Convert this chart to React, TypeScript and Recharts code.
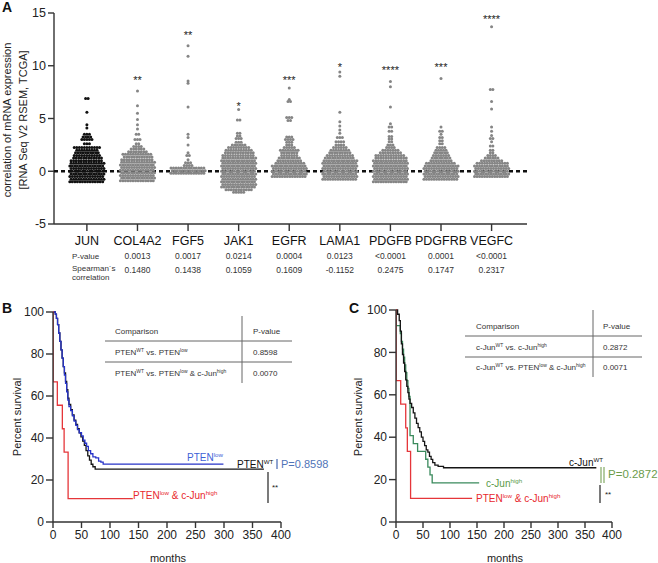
import React from "react";
import { ScatterChart, Scatter, XAxis, YAxis, LineChart, Line } from "recharts";

const FONT = "'Liberation Sans', Arial, sans-serif";

// ---- panel A: genes, stats, dot rows ----
const GENES = ["JUN", "COL4A2", "FGF5", "JAK1", "EGFR", "LAMA1", "PDGFB", "PDGFRB", "VEGFC"];
const P_VALUES = ["", "0.0013", "0.0017", "0.0214", "0.0004", "0.0123", "<0.0001", "0.0001", "<0.0001"];
const SPEARMAN = ["", "0.1480", "0.1438", "0.1059", "0.1609", "-0.1152", "0.2475", "0.1747", "0.2317"];
const STARS = ["", "**", "**", "*", "***", "*", "****", "***", "****"];
const STAR_Y = [0, 8.8, 13.1, 6.4, 8.8, 10.1, 9.8, 10.1, 14.6];
const ZERO_LINE = [{ x: -0.65, y: 0 }, { x: 8.7, y: 0 }];

// dense body: number of dots per 0.25-wide row, starting at BODY_FROM
const BODY_FROM = [-1.0, -0.9, -0.2, -2.0, -0.5, -0.75, -1.0, -0.75, -0.5];
const BODY_COUNTS = [
  [14, 14, 14, 14, 14, 14, 14, 14, 13, 12, 11, 10, 9, 11],
  [14, 14, 14, 14, 14, 14, 14, 14, 13, 12, 12, 8, 6, 4, 2],
  [14, 14, 14],
  [5, 11, 14, 14, 14, 14, 14, 14, 14, 14, 14, 14, 14, 14, 13, 12, 11, 9, 6, 3],
  [14, 14, 14, 14, 14, 12, 10, 9, 7, 7, 8, 5, 3, 3],
  [14, 14, 14, 14, 14, 14, 14, 14, 12, 11, 9, 8, 6, 4],
  [14, 14, 14, 14, 14, 14, 14, 14, 14, 13, 12, 9, 7, 4, 3],
  [14, 14, 14, 14, 14, 14, 12, 9, 8, 7, 6, 5, 4],
  [14, 14, 14, 14, 14, 13, 9, 6, 4],
];
// sparse upper tail: [value, dots in row]
const TAILS: [number, number][][] = [
  [[2.6, 3], [3.0, 5], [3.25, 4], [3.5, 3], [4.1, 1], [4.4, 1], [5.6, 1], [6.9, 2]],
  [[3.0, 3], [3.5, 2], [4.0, 1], [4.4, 1], [4.9, 1], [5.5, 1], [6.2, 1], [7.6, 1]],
  [[0.55, 4], [0.8, 3], [1.1, 1], [1.5, 2], [1.75, 1], [2.5, 1], [3.2, 1], [3.5, 1], [6.1, 1], [8.35, 1], [8.55, 1], [10.9, 1], [11.9, 1]],
  [[3.1, 3], [3.35, 2], [3.6, 2], [4.85, 2], [5.85, 1]],
  [[3.0, 4], [3.25, 3], [4.8, 2], [5.1, 3], [6.6, 2], [6.8, 1], [7.9, 1]],
  [[2.8, 4], [3.2, 3], [3.6, 1], [3.9, 1], [4.3, 1], [4.7, 1], [5.6, 1], [9.0, 1], [9.4, 1]],
  [[2.8, 2], [3.05, 2], [3.3, 2], [3.8, 2], [4.2, 2], [4.5, 1], [6.1, 1], [8.0, 1], [8.5, 1]],
  [[2.6, 2], [2.9, 2], [3.2, 2], [3.5, 1], [3.8, 2], [4.2, 1], [8.8, 1]],
  [[1.75, 2], [2.0, 2], [2.4, 2], [2.8, 1], [3.1, 2], [3.4, 1], [3.8, 1], [4.2, 1], [5.9, 1], [6.6, 1], [7.75, 2], [13.7, 1]],
];

// ---- panel B / C survival curves: months and percent survival ----
const B_WT_T = [0, 4, 6, 8, 10, 12, 14, 16, 18, 20, 22, 24, 26, 28, 31, 34, 37, 40, 43, 46, 49, 52, 55, 58, 61, 64, 67, 70, 74, 370];
const B_WT_S = [100, 99, 97, 94, 90, 86, 82, 78, 74, 71, 67, 63, 59, 56, 53.5, 51, 48.5, 46.5, 44.5, 42.5, 40.5, 38.5, 36.5, 34, 31.5, 29.5, 27.5, 26.3, 25.2, 25.2];
const B_LOW_T = [0, 4, 6, 8, 10, 12, 14, 16, 18, 20, 22, 24, 26, 28, 31, 34, 37, 40, 43, 46, 50, 53, 56, 59, 62, 66, 70, 75, 80, 84, 88, 299];
const B_LOW_S = [100, 99, 97, 94, 90, 86, 82, 78, 74, 70, 66, 62, 58, 55, 53, 50.5, 48, 46, 44, 42.5, 41, 39, 37.5, 36, 34, 32.5, 31, 30.5, 29, 28.5, 27.6, 27.6];
const B_JUN_T = [0, 0.3, 7.6, 16.4, 19.5, 26.5, 140];
const B_JUN_S = [100, 66.7, 55.6, 44.4, 33.3, 11.1, 11.1];

const C_WT_T = [0, 3, 6, 8, 10, 12, 14, 16, 18, 20, 22, 24, 26, 29, 32, 35, 38, 41, 44, 47, 50, 53, 56, 59, 62, 65, 68, 72, 78, 88, 371];
const C_WT_S = [100, 98, 95, 90, 84, 79, 75, 71, 67, 64, 61, 58, 56, 54, 51.5, 49, 46.5, 44.5, 42.5, 40, 38, 36, 34, 33, 31, 29.5, 28, 26.8, 26.2, 25.6, 25.6];
const C_HIGH_T = [0, 0.5, 8, 10, 12, 14, 16, 18, 20, 22, 24, 26, 32, 40, 55, 59, 63, 67, 154];
const C_HIGH_S = [100, 92.6, 88.9, 85.2, 81.5, 77.8, 74.1, 70.4, 66.7, 63, 59.3, 40.7, 37, 33.3, 29.6, 25.9, 22.2, 18.5, 18.5];
const C_JUN_T = [0, 0.3, 8.7, 18, 21, 27, 141];
const C_JUN_S = [100, 66.7, 55.6, 44.4, 33.3, 11.1, 11.1];

const MONTH_TICKS = [0, 50, 100, 150, 200, 250, 300, 350, 400];
const MINOR_TICKS = [25, 75, 125, 175, 225, 275, 325, 375];
const PCT_TICKS = [0, 20, 40, 60, 80, 100];

const DX = 0.05; // horizontal spacing of dots in category units

function dotsFor(i: number) {
  const rows: [number, number][] = BODY_COUNTS[i].map((n, k) => [BODY_FROM[i] + k * 0.25, n] as [number, number]);
  const all = rows.concat(TAILS[i]);
  const pts: { x: number; y: number }[] = [];
  all.forEach(([v, n], r) => {
    const shift = n >= 12 ? (r % 2) * (DX / 2) - DX / 4 : 0;
    for (let j = 0; j < n; j++) pts.push({ x: i + (j - (n - 1) / 2) * DX + shift, y: v });
  });
  return pts;
}

const curve = (t: number[], s: number[]) => t.map((m, k) => ({ t: m, s: s[k] }));

const GeneTick = ({ x, y, payload }: any) => {
  const i = payload.value;
  return (
    <g fontFamily={FONT}>
      <text x={x} y={y + 12} textAnchor="middle" fontSize={12.5} fill="#111">{GENES[i]}</text>
      <text x={x} y={y + 26} textAnchor="middle" fontSize={8.5} fill="#333">{P_VALUES[i]}</text>
      <text x={x} y={y + 40} textAnchor="middle" fontSize={8.5} fill="#333">{SPEARMAN[i]}</text>
    </g>
  );
};

const StarShape = (label: string) => (p: any) => (
  <text x={p.cx} y={p.cy + 6} textAnchor="middle" fontSize={11} fill="#222" stroke="none" fontFamily={FONT}>{label}</text>
);

// text with superscripts: parts = [text, isSup]
function Rich({ x, y, parts, size, fill }: { x: number; y: number; parts: [string, boolean?][]; size: number; fill: string }) {
  let sup = false;
  return (
    <text x={x} y={y} fontSize={size} fill={fill} style={{ whiteSpace: "pre" }}>
      {parts.map(([t, s], k) => {
        const dy = s && !sup ? -size * 0.4 : !s && sup ? size * 0.4 : 0;
        sup = !!s;
        return (
          <tspan key={k} dy={dy} fontSize={s ? size * 0.62 : size}>{t}</tspan>
        );
      })}
    </text>
  );
}

const axisStyle = { stroke: "#333", strokeWidth: 1.4 };

export default function App() {
  return (
    <div style={{ position: "absolute", left: 0, top: 0, width: 658, height: 563, background: "#fff", fontFamily: FONT }}>
      {/* Panel A */}
      <div style={{ position: "absolute", left: 0, top: 0 }}>
        <ScatterChart width={658} height={290} margin={{ top: 13, right: 131, bottom: 36, left: 14 }}>
          <XAxis
            type="number"
            dataKey="x"
            domain={[-0.65, 8.7]}
            ticks={[0, 1, 2, 3, 4, 5, 6, 7, 8]}
            tick={<GeneTick />}
            tickSize={7}
            height={30}
            allowDataOverflow
            axisLine={axisStyle}
            tickLine={axisStyle}
          />
          <YAxis
            type="number"
            dataKey="y"
            domain={[-5, 15]}
            ticks={[-5, 0, 5, 10, 15]}
            width={40}
            tickSize={6}
            allowDataOverflow
            tick={{ fontSize: 12.5, fill: "#222", fontFamily: FONT }}
            axisLine={axisStyle}
            tickLine={axisStyle}
          />
          {/* dashed zero line drawn first so the dot clouds cover it */}
          <Scatter
            data={ZERO_LINE}
            isAnimationActive={false}
            line={{ stroke: "#111", strokeWidth: 2.4, strokeDasharray: "4 3" }}
            shape={() => <g />}
          />
          {GENES.map((g, i) => (
            <Scatter
              key={g}
              data={dotsFor(i)}
              isAnimationActive={false}
              shape={(p: any) => <circle cx={p.cx} cy={p.cy} r={1.5} fill={i === 0 ? "#111" : "#858585"} />}
            />
          ))}
          {STARS.map((s, i) =>
            s ? (
              <Scatter key={"s" + i} data={[{ x: i, y: STAR_Y[i] }]} fill="#222" isAnimationActive={false} shape={StarShape(s)} />
            ) : null
          )}
        </ScatterChart>
      </div>

      {/* Panel B */}
      <div style={{ position: "absolute", left: 0, top: 290 }}>
        <LineChart width={330} height={273} margin={{ top: 22, right: 49, bottom: 11, left: 13 }}>
          <XAxis type="number" dataKey="t" domain={[0, 400]} ticks={MONTH_TICKS} tickSize={6} height={30}
            tick={{ fontSize: 12, fill: "#222", fontFamily: FONT }} axisLine={axisStyle} tickLine={axisStyle} allowDataOverflow />
          <YAxis type="number" domain={[0, 100]} ticks={PCT_TICKS} width={40} tickSize={7}
            tick={{ fontSize: 12, fill: "#222", fontFamily: FONT }} axisLine={axisStyle} tickLine={axisStyle} />
          <Line data={curve(B_WT_T, B_WT_S)} dataKey="s" type="stepAfter" stroke="#151515" strokeWidth={1.3} dot={false} isAnimationActive={false} />
          <Line data={curve(B_LOW_T, B_LOW_S)} dataKey="s" type="stepAfter" stroke="#2733c8" strokeWidth={1.3} dot={false} isAnimationActive={false} />
          <Line data={curve(B_JUN_T, B_JUN_S)} dataKey="s" type="stepAfter" stroke="#e5363a" strokeWidth={1.3} dot={false} isAnimationActive={false} />
        </LineChart>
      </div>

      {/* Panel C */}
      <div style={{ position: "absolute", left: 330, top: 290 }}>
        <LineChart width={328} height={273} margin={{ top: 20, right: 46, bottom: 11, left: 26 }}>
          <XAxis type="number" dataKey="t" domain={[0, 400]} ticks={MONTH_TICKS} tickSize={6} height={30}
            tick={{ fontSize: 12, fill: "#222", fontFamily: FONT }} axisLine={axisStyle} tickLine={axisStyle} allowDataOverflow />
          <XAxis xAxisId="minor" type="number" dataKey="t" domain={[0, 400]} ticks={MINOR_TICKS} tickSize={3} height={0}
            tick={false} axisLine={false} tickLine={axisStyle} allowDataOverflow />
          <YAxis type="number" domain={[0, 100]} ticks={PCT_TICKS} width={40} tickSize={7}
            tick={{ fontSize: 12, fill: "#222", fontFamily: FONT }} axisLine={axisStyle} tickLine={axisStyle} />
          <Line data={curve(C_HIGH_T, C_HIGH_S)} dataKey="s" type="stepAfter" stroke="#3a8a5c" strokeWidth={1.3} dot={false} isAnimationActive={false} />
          <Line data={curve(C_WT_T, C_WT_S)} dataKey="s" type="stepAfter" stroke="#151515" strokeWidth={1.3} dot={false} isAnimationActive={false} />
          <Line data={curve(C_JUN_T, C_JUN_S)} dataKey="s" type="stepAfter" stroke="#e5363a" strokeWidth={1.3} dot={false} isAnimationActive={false} />
        </LineChart>
      </div>

      {/* annotations */}
      <svg width={658} height={563} style={{ position: "absolute", left: 0, top: 0, pointerEvents: "none" }} fontFamily={FONT}>
        <text x={2} y={12} fontSize={14} fontWeight="bold" fill="#111">A</text>
        <text x={2} y={313} fontSize={14} fontWeight="bold" fill="#111">B</text>
        <text x={349} y={313} fontSize={14} fontWeight="bold" fill="#111">C</text>

        <text x={11} y={120} fontSize={11} fill="#222" textAnchor="middle" transform="rotate(-90 11 120)">correlation of mRNA expression</text>
        <text x={27} y={120} fontSize={11} fill="#222" textAnchor="middle" transform="rotate(-90 27 120)">[RNA Seq V2 RSEM, TCGA]</text>
        <text x={72} y={259} fontSize={8} fill="#333">P-value</text>
        <text x={72} y={271} fontSize={8} fill="#333">Spearman´s</text>
        <text x={72} y={280} fontSize={8} fill="#333">correlation</text>

        {/* B axes labels */}
        <text x={21} y={417} fontSize={11} fill="#222" textAnchor="middle" transform="rotate(-90 21 417)">Percent survival</text>
        <text x={168} y={562} fontSize={11} fill="#222" textAnchor="middle">months</text>
        {/* C axes labels */}
        <text x={362} y={417} fontSize={11} fill="#222" textAnchor="middle" transform="rotate(-90 362 417)">Percent survival</text>
        <text x={505} y={562} fontSize={11} fill="#222" textAnchor="middle">months</text>

        {/* B table */}
        <g fontSize={8} fill="#333">
          <text x={115} y={334}>Comparison</text>
          <text x={253} y={334}>P-value</text>
          <Rich x={115} y={355} size={8} fill="#333" parts={[["PTEN"], ["WT", true], [" vs. PTEN"], ["low", true]]} />
          <text x={253} y={355}>0.8598</text>
          <Rich x={115} y={376} size={8} fill="#333" parts={[["PTEN"], ["WT", true], [" vs. PTEN"], ["low", true], [" & c-Jun"], ["high", true]]} />
          <text x={253} y={376}>0.0070</text>
        </g>
        <line x1={105} x2={292} y1={341} y2={341} stroke="#666" strokeWidth={1} />
        <line x1={105} x2={292} y1={362} y2={362} stroke="#666" strokeWidth={1} />
        <line x1={242} x2={242} y1={316} y2={383} stroke="#666" strokeWidth={1} />

        {/* C table */}
        <g fontSize={8} fill="#333">
          <text x={476} y={329}>Comparison</text>
          <text x={603} y={329}>P-value</text>
          <Rich x={476} y={350} size={8} fill="#333" parts={[["c-Jun"], ["WT", true], [" vs. c-Jun"], ["high", true]]} />
          <text x={603} y={350}>0.2872</text>
          <Rich x={476} y={370} size={8} fill="#333" parts={[["c-Jun"], ["WT", true], [" vs. PTEN"], ["low", true], [" & c-Jun"], ["high", true]]} />
          <text x={603} y={370}>0.0071</text>
        </g>
        <line x1={465} x2={642} y1={336} y2={336} stroke="#666" strokeWidth={1} />
        <line x1={465} x2={642} y1={357} y2={357} stroke="#666" strokeWidth={1} />
        <line x1={593} x2={593} y1={310} y2={377} stroke="#666" strokeWidth={1} />

        {/* B curve labels */}
        <Rich x={187} y={461} size={10} fill="#3d5fd6" parts={[["PTEN"], ["low", true]]} />
        <Rich x={237} y={468} size={10} fill="#111" parts={[["PTEN"], ["WT", true]]} />
        <line x1={277} x2={277} y1={459} y2={469} stroke="#6a86c0" strokeWidth={1.5} />
        <text x={281} y={468} fontSize={11} fill="#4f74b8">P=0.8598</text>
        <line x1={268} x2={268} y1={472} y2={503} stroke="#222" strokeWidth={1.2} />
        <text x={272} y={490} fontSize={8} fill="#222">**</text>
        <Rich x={133} y={499} size={10} fill="#e8282e" parts={[["PTEN"], ["low", true], [" & c-Jun"], ["high", true]]} />

        {/* C curve labels */}
        <Rich x={569} y={466} size={10} fill="#111" parts={[["c-Jun"], ["WT", true]]} />
        <Rich x={486} y={487} size={10} fill="#5a9a48" parts={[["c-Jun"], ["high", true]]} />
        <Rich x={476} y={502} size={10} fill="#e8282e" parts={[["PTEN"], ["low", true], [" & c-Jun"], ["high", true]]} />
        <line x1={601} x2={601} y1={467} y2={483} stroke="#8db070" strokeWidth={1.3} />
        <line x1={604} x2={604} y1={467} y2={483} stroke="#8db070" strokeWidth={1.3} />
        <text x={608} y={478} fontSize={11.5} fill="#6b9c4b">P=0.2872</text>
        <line x1={600} x2={600} y1={485} y2={503} stroke="#222" strokeWidth={1.2} />
        <text x={605} y={497} fontSize={8} fill="#222">**</text>
      </svg>
    </div>
  );
}
